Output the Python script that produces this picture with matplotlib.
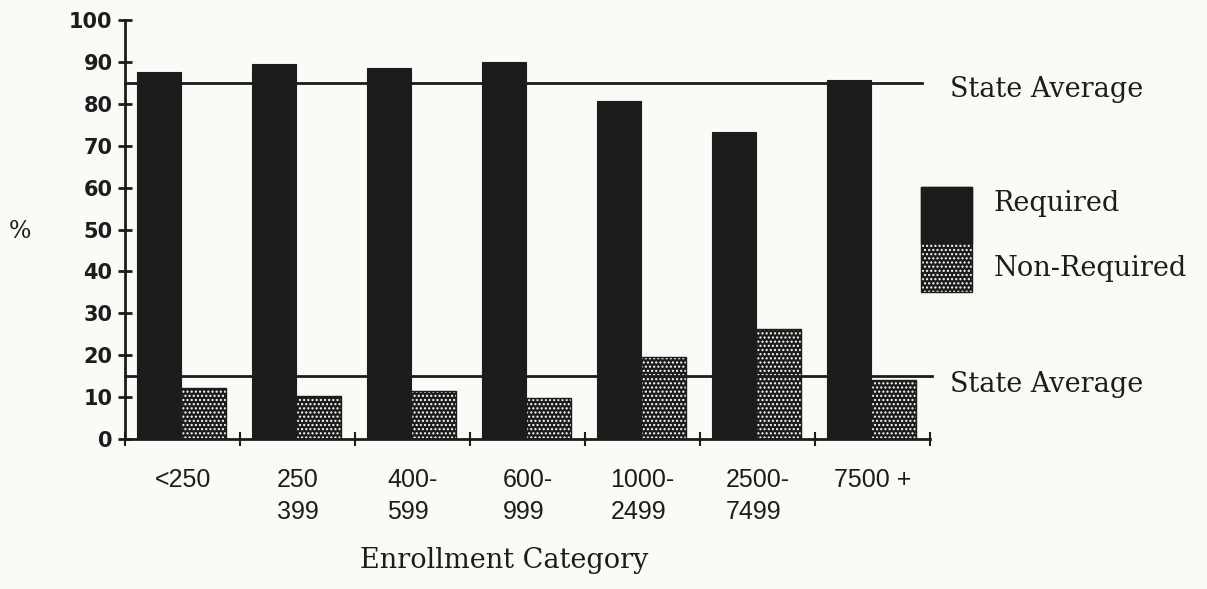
import matplotlib.pyplot as plt
from matplotlib.patches import Rectangle
import numpy as np

categories = ['<250', '250\n399', '400-\n599', '600-\n999', '1000-\n2499', '2500-\n7499', '7500 +']
required = [87.7, 89.5, 88.5, 90.0, 80.7, 73.3, 85.7]
non_required = [12.1, 10.3, 11.5, 9.8, 19.5, 26.2, 14.1]
state_avg_required = 85
state_avg_non_required = 15

ink = '#1c1c1c'
paper = '#fbfaf7'

fig = plt.figure(figsize=(12.07, 5.89), dpi=100, facecolor=paper)
ax = fig.add_axes([0.1036, 0.2547, 0.667, 0.7113], facecolor=paper)

x = np.arange(len(categories))
w = 0.385
ax.bar(x - w / 2 - 0.01, required, width=w, color=ink, edgecolor=ink, linewidth=0.8)
ax.bar(x + w / 2 - 0.01, non_required, width=w, color=ink, edgecolor='white',
       hatch='....', linewidth=0)
ax.bar(x + w / 2 - 0.01, non_required, width=w, fill=False, edgecolor=ink, linewidth=1)

# state average reference lines
ax.plot([-0.5, 6.43], [state_avg_required] * 2, color=ink, lw=2, clip_on=False)
ax.plot([-0.5, 6.52], [state_avg_non_required] * 2, color=ink, lw=2, clip_on=False)

ax.set_xlim(-0.5, 6.5)
ax.set_ylim(0, 100)
for s in ['top', 'right']:
    ax.spines[s].set_visible(False)
for s in ['left', 'bottom']:
    ax.spines[s].set_linewidth(2)
    ax.spines[s].set_color(ink)

ax.set_yticks(range(0, 101, 10))
ax.tick_params(axis='y', direction='inout', length=10, width=2, color=ink,
               labelsize=15, labelcolor=ink, pad=4)
for lab in ax.get_yticklabels():
    lab.set_fontweight('bold')

ax.set_xticks(x)
ax.set_xticklabels(categories, family='Liberation Sans', fontsize=18, color=ink,
                   multialignment='left', linespacing=1.4)
ax.tick_params(axis='x', which='major', length=0, pad=21)
ax.set_xticks(np.arange(-0.5, 7, 1), minor=True)
ax.tick_params(axis='x', which='minor', direction='inout', length=10, width=1.5, color=ink)

fig.text(504 / 1207, 1 - 568 / 589, 'Enrollment Category', family='DejaVu Serif',
         fontsize=19.5, color=ink, ha='center', va='baseline')
fig.text(20 / 1207, 1 - 232 / 589, '%', family='DejaVu Serif', fontsize=17,
         color=ink, ha='center', va='center')

serif = dict(family='DejaVu Serif', fontsize=19.5, color=ink, va='center', ha='left')
ax.text(6.67, 83.3, 'State Average', **serif)
ax.text(6.67, 12.9, 'State Average', **serif)

# legend drawn as patches beside the plot
lx, lw_ = 6.42, 0.44
ax.add_patch(Rectangle((lx, 46.8), lw_, 13.4, color=ink, clip_on=False))
ax.add_patch(Rectangle((lx, 35.2), lw_, 11.6, facecolor=ink, edgecolor='white', hatch='....',
                       linewidth=0, clip_on=False))
ax.add_patch(Rectangle((lx, 35.2), lw_, 25.0, fill=False, edgecolor=ink, linewidth=1, clip_on=False))
ax.text(7.05, 56.3, 'Required', **serif)
ax.text(7.05, 40.8, 'Non-Required', **serif)

fig.savefig('out.png', dpi=100, facecolor=paper)
